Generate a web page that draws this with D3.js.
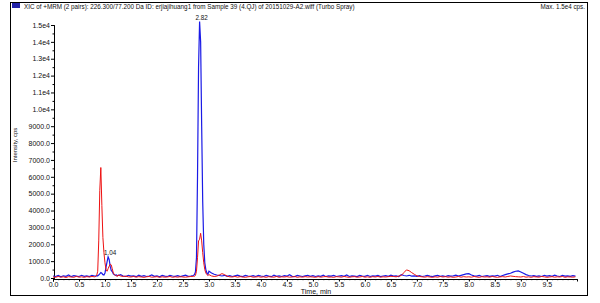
<!DOCTYPE html>
<html>
<head>
<meta charset="utf-8">
<script src="https://cdn.jsdelivr.net/npm/d3@7"></script>
<style>
  body { margin: 0; background: #fff; }
  svg { display: block; font-family: "Liberation Sans", Arial, sans-serif; }
</style>
</head>
<body>
<div id="chart"></div>
<script>
// retention times (min)
const times = [
  0.00, 0.05, 0.10, 0.15, 0.20, 0.25, 0.30, 0.35, 0.40, 0.45, 0.50, 0.55, 0.60, 0.65, 0.70, 0.75, 0.80,
  0.82, 0.84, 0.86, 0.88, 0.90, 0.92, 0.94, 0.96, 0.98, 1.00, 1.02, 1.04, 1.06, 1.08, 1.10, 1.12, 1.14, 1.16, 1.18, 1.20, 1.22, 1.24,
  1.25, 1.30, 1.35, 1.40, 1.45, 1.50, 1.55, 1.60, 1.65, 1.70, 1.75, 1.80, 1.85, 1.90, 1.95, 2.00, 2.05, 2.10, 2.15, 2.20, 2.25, 2.30, 2.35, 2.40, 2.45, 2.50, 2.55, 2.60, 2.65, 2.70,
  2.72, 2.74, 2.76, 2.78, 2.80, 2.82, 2.84, 2.86, 2.88, 2.90, 2.92, 2.94, 2.96, 2.98,
  3.00, 3.05, 3.10, 3.15, 3.20, 3.25, 3.30, 3.35, 3.40, 3.45, 3.50, 3.55, 3.60, 3.65, 3.70, 3.75, 3.80, 3.85, 3.90, 3.95,
  4.00, 4.05, 4.10, 4.15, 4.20, 4.25, 4.30, 4.35, 4.40, 4.45, 4.50, 4.55, 4.60, 4.65, 4.70, 4.75, 4.80, 4.85, 4.90, 4.95,
  5.00, 5.05, 5.10, 5.15, 5.20, 5.25, 5.30, 5.35, 5.40, 5.45, 5.50, 5.55, 5.60, 5.65, 5.70, 5.75, 5.80, 5.85, 5.90, 5.95,
  6.00, 6.05, 6.10, 6.15, 6.20, 6.25, 6.30, 6.35, 6.40, 6.45, 6.50, 6.55, 6.60, 6.65, 6.70, 6.75, 6.80, 6.85, 6.90, 6.95,
  7.00, 7.05, 7.10, 7.15, 7.20, 7.25, 7.30, 7.35, 7.40, 7.45, 7.50, 7.55, 7.60, 7.65, 7.70, 7.75, 7.80, 7.85, 7.90, 7.95,
  8.00, 8.05, 8.10, 8.15, 8.20, 8.25, 8.30, 8.35, 8.40, 8.45, 8.50, 8.55, 8.60, 8.65, 8.70, 8.75, 8.80, 8.85, 8.90, 8.95,
  9.00, 9.05, 9.10, 9.15, 9.20, 9.25, 9.30, 9.35, 9.40, 9.45, 9.50, 9.55, 9.60, 9.65, 9.70, 9.75, 9.80, 9.85, 9.90, 9.95,
  10.00, 10.05
];

// first transition (blue), cps
const blueCps = [
  120, 90, 150, 70, 130, 100, 180, 80, 140, 110, 90, 160, 100, 130, 80, 150, 120,
  110, 140, 130, 180, 250, 320, 280, 200, 180, 300, 650, 950, 1250, 1100, 700, 450, 380, 250, 200, 160, 180, 140,
  150, 200, 120, 90, 160, 110, 130, 80, 170, 100, 140, 90, 120, 180, 100, 130, 70, 150, 110, 90, 160, 120, 100, 140, 80, 130, 170, 100, 120, 150,
  200, 350, 1200, 6000, 12500, 15200, 14000, 9000, 4500, 2000, 900, 500, 300, 220,
  400, 300, 220, 180, 150, 120, 160, 100, 140, 90, 130, 170, 110, 80, 150, 120, 100, 140, 90, 160,
  120, 90, 150, 110, 80, 170, 100, 130, 90, 140, 110, 200, 100, 80, 150, 120, 90, 130, 160, 100,
  140, 90, 120, 100, 170, 80, 130, 110, 150, 90, 120, 140, 100, 180, 90, 130, 110, 80, 150, 120,
  100, 160, 90, 130, 110, 150, 80, 120, 140, 100, 170, 110, 130, 90, 200, 150, 120, 160, 110, 130,
  100, 140, 90, 120, 160, 110, 80, 130, 150, 100, 120, 90, 140, 110, 130, 170, 120, 160, 200, 240,
  260, 180, 130, 110, 150, 90, 120, 140, 100, 130, 110, 160, 90, 150, 200, 240, 280, 350, 400, 420,
  360, 280, 200, 150, 120, 140, 100, 130, 90, 160, 110, 140, 100, 170, 120, 90, 150, 110, 130, 100,
  140, 110
];

// second transition (red), cps
const redCps = [
  60, 40, 90, 50, 70, 30, 80, 60, 40, 100, 50, 70, 40, 80, 60, 90, 70,
  90, 150, 400, 2200, 5200, 6550, 4300, 2400, 1500, 900, 500, 400, 550, 700, 820, 780, 550, 300, 200, 150, 120, 100,
  180, 120, 90, 110, 70, 60, 90, 50, 80, 60, 40, 70, 90, 50, 60, 80, 40, 70, 50, 60, 90, 40, 70, 50, 80, 60, 50, 70, 90, 100,
  100, 150, 400, 1200, 2200, 2300, 2650, 2200, 1500, 900, 500, 300, 200, 150,
  200, 120, 90, 110, 180, 260, 200, 110, 70, 60, 90, 50, 80, 60, 40, 70, 90, 50, 60, 80,
  50, 70, 40, 80, 60, 50, 90, 40, 70, 60, 80, 50, 60, 90, 40, 70, 50, 80, 60, 70,
  60, 40, 80, 50, 70, 90, 50, 60, 40, 80, 70, 50, 90, 60, 40, 70, 80, 50, 60, 90,
  50, 70, 40, 80, 60, 90, 50, 70, 60, 80, 100, 90, 70, 110, 150, 320, 480, 430, 320, 220,
  130, 90, 70, 50, 80, 60, 40, 70, 50, 90, 60, 80, 50, 70, 40, 60, 90, 50, 80, 60,
  70, 50, 90, 60, 40, 80, 60, 70, 50, 90, 60, 40, 70, 80, 60, 90, 120, 100, 80, 70,
  60, 90, 50, 70, 40, 80, 60, 50, 90, 70, 40, 60, 80, 50, 70, 60, 90, 40, 70, 60,
  50, 70
];

const xTicks = [0, 0.5, 1, 1.5, 2, 2.5, 3, 3.5, 4, 4.5, 5, 5.5, 6, 6.5, 7, 7.5, 8, 8.5, 9, 9.5];
const yTicks = [0, 1000, 2000, 3000, 4000, 5000, 6000, 7000, 8000, 9000, 10000, 11000, 12000, 13000, 14000, 15000];
const peakLabels = [
  { time: 2.82, value: 15200, text: "2.82" },
  { time: 1.06, value: 1250, text: "1.04" }
];

if (blueCps.length !== times.length || redCps.length !== times.length) {
  throw new Error("length mismatch " + times.length + " " + blueCps.length + " " + redCps.length);
}

const W = 600, H = 303;
const svg = d3.select("#chart").append("svg").attr("width", W).attr("height", H);

// outer frame
svg.append("rect")
  .attr("x", 10.5).attr("y", 2.5)
  .attr("width", 577).attr("height", 293)
  .attr("fill", "none").attr("stroke", "#000").attr("stroke-width", 1);

// header
svg.append("rect").attr("x", 12).attr("y", 3).attr("width", 8).attr("height", 5).attr("fill", "#2222a8");
svg.append("text").attr("x", 24).attr("y", 9)
  .attr("font-size", "6.3px").attr("fill", "#111")
  .text("XIC of +MRM (2 pairs): 226.300/77.200 Da ID: erjiajihuang1 from Sample 39 (4.QJ) of 20151029-A2.wiff (Turbo Spray)");
svg.append("text").attr("x", 585).attr("y", 9)
  .attr("text-anchor", "end").attr("font-size", "6.3px").attr("fill", "#111")
  .text("Max. 1.5e4 cps.");

const x = d3.scaleLinear().domain([0, 10.08]).range([53, 577]);
const y = d3.scaleLinear().domain([0, 15000]).range([278, 25]);

// y axis
const yAxis = svg.append("g").attr("transform", "translate(54,0)")
  .call(d3.axisLeft(y).tickValues(yTicks).tickSize(3).tickPadding(1)
    .tickFormat(d => d >= 10000 ? (d / 10000).toFixed(1) + "e4" : d.toFixed(1)));
yAxis.append("g").call(d3.axisLeft(y).tickValues(d3.range(500, 15000, 1000)).tickSize(1.5).tickFormat(""));

// x axis
const xAxis = svg.append("g").attr("transform", "translate(0,279)")
  .call(d3.axisBottom(x).tickValues(xTicks).tickSize(2.5).tickPadding(0.5).tickFormat(d3.format(".1f")));
xAxis.append("g").call(d3.axisBottom(x).tickValues(d3.range(0.1, 10.05, 0.1)).tickSize(1.2).tickFormat(""));

svg.selectAll(".domain").attr("stroke", "#000");
svg.selectAll(".tick line").attr("stroke", "#000");
svg.selectAll(".tick text").attr("font-size", "7px").attr("fill", "#111");

svg.append("text").attr("x", 316).attr("y", 293.5)
  .attr("text-anchor", "middle").attr("font-size", "7px").attr("fill", "#111")
  .text("Time, min");

svg.append("text")
  .attr("transform", "translate(17,145) rotate(-90)")
  .attr("text-anchor", "middle").attr("font-size", "6px").attr("fill", "#111")
  .text("Intensity, cps");

// traces
const line = d3.line().x((d, i) => x(times[i])).y(d => y(d));

svg.append("path").attr("d", line(blueCps))
  .attr("fill", "none").attr("stroke", "#1a1ae6").attr("stroke-width", 1.2);
svg.append("path").attr("d", line(redCps))
  .attr("fill", "none").attr("stroke", "#ee1111").attr("stroke-width", 1);

svg.selectAll(".peak")
  .data(peakLabels)
  .enter().append("text")
  .attr("x", d => x(d.time) + 2)
  .attr("y", d => y(d.value) - 2)
  .attr("text-anchor", "middle").attr("font-size", "6.3px").attr("fill", "#111")
  .text(d => d.text);
</script>
</body>
</html>
